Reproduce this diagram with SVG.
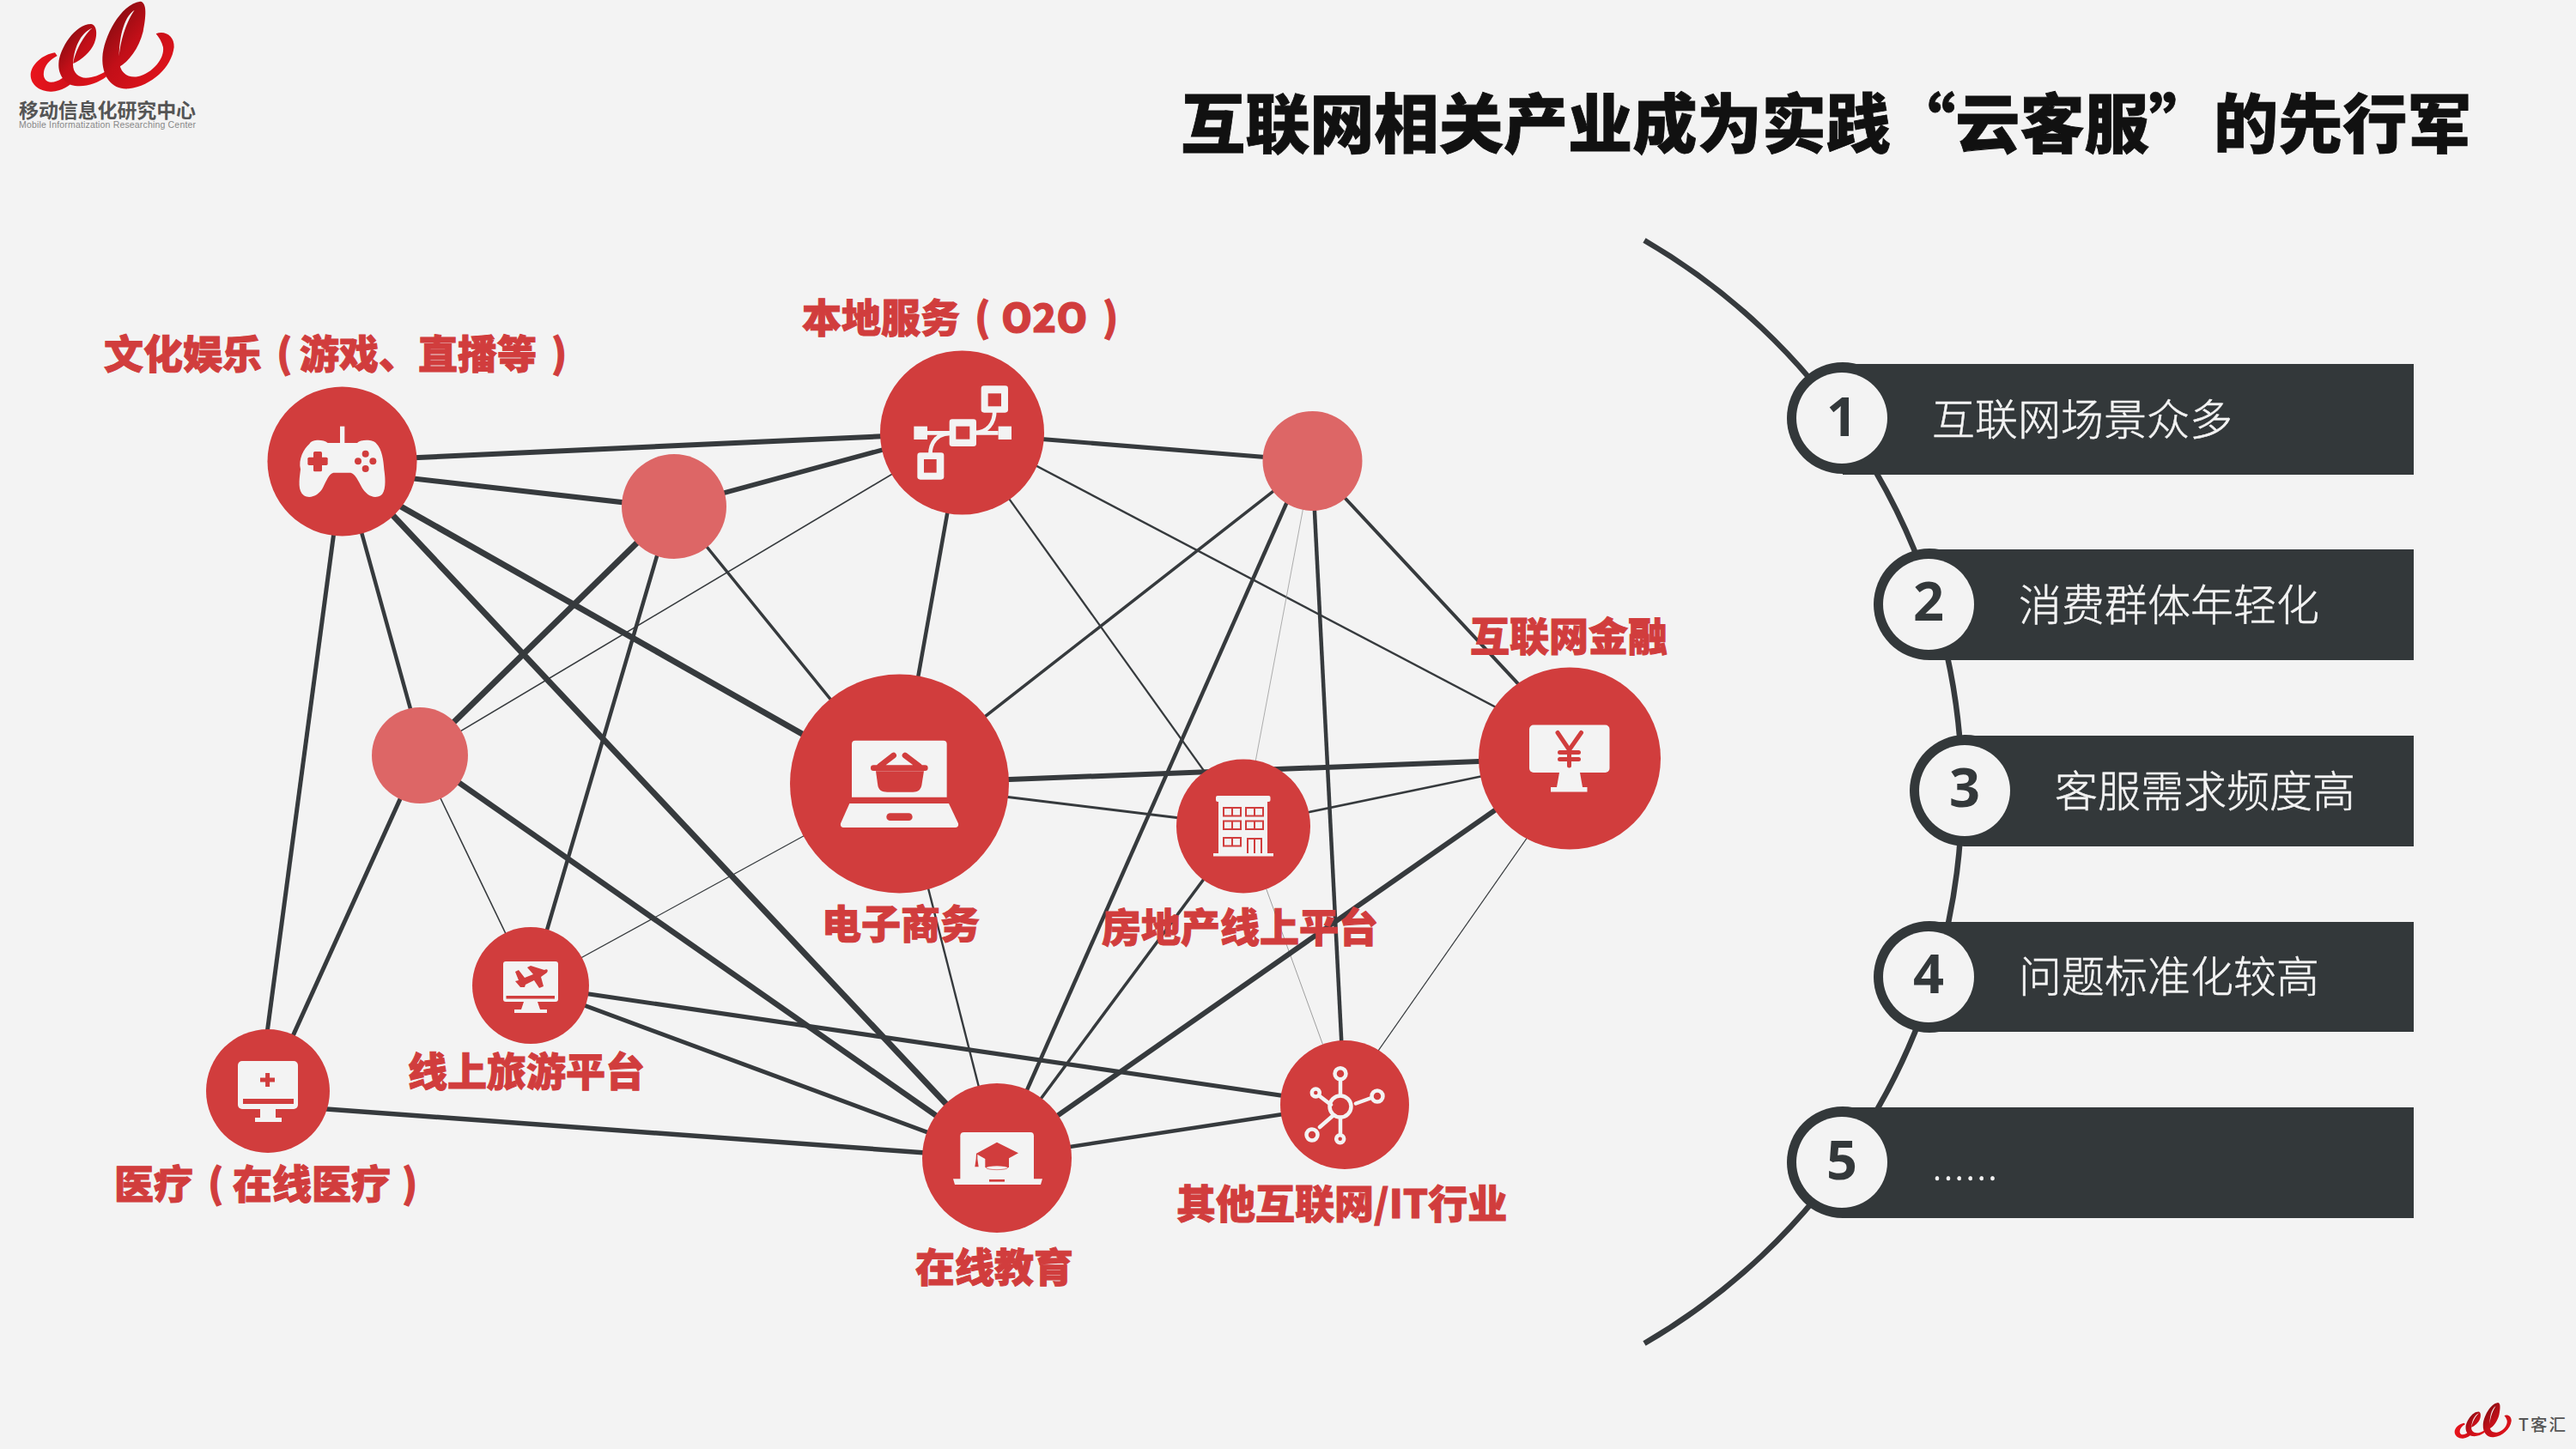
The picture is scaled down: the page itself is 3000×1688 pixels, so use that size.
<svg xmlns="http://www.w3.org/2000/svg" xmlns:xlink="http://www.w3.org/1999/xlink" width="3000" height="1688" viewBox="0 0 3000 1688">
<style>
.lbl{font-family:"Noto Sans CJK SC","Liberation Sans",sans-serif;font-weight:900;font-size:46px;fill:#D13D3D;stroke:#D13D3D;stroke-width:1}
.bt{font-family:"Noto Sans CJK SC","Liberation Sans",sans-serif;font-weight:300;font-size:50px;fill:#F3F3F3;stroke:#F3F3F3;stroke-width:.5}
.dg{font-family:"Open Sans","Liberation Sans",sans-serif;font-weight:700;font-size:63px;fill:#33383A;text-anchor:middle}
.n{fill:#D13D3D}.p{fill:#DD6666}
.w{fill:#F3F3F3}.r{fill:#D13D3D}
.bar{fill:#33383A}
#connectors line{stroke:#363A3D;stroke-linecap:butt}
</style>
<defs>
<linearGradient id="rib" x1="0" y1="0" x2="1" y2="1"><stop offset="0" stop-color="#6E0A0E"/><stop offset=".45" stop-color="#C20F18"/><stop offset="1" stop-color="#E8141C"/></linearGradient>
<linearGradient id="rib2" x1="0" y1="0" x2="1" y2="0"><stop offset="0" stop-color="#E8141C"/><stop offset="1" stop-color="#D0101A"/></linearGradient>
<g id="ribbon">
<path fill="url(#rib2)" d="M192 184C150 190 108 225 107 262C107 300 145 322 180 320C215 318 245 300 262 278L250 240C230 268 205 287 178 287C160 287 150 272 153 252C156 230 172 210 200 195Z"/>
<path fill="url(#rib)" d="M205 222C208 170 262 84 318 84C338 86 342 120 330 150C318 180 285 210 256 222C258 195 285 130 322 98C280 115 258 170 255 225C255 255 275 272 300 272C325 272 350 262 368 250L372 268C340 292 300 305 262 300C225 295 203 260 205 222Z"/>
<path fill="url(#rib)" d="M358 200C362 130 420 15 490 5C515 8 510 60 500 110C485 170 450 215 415 235C412 170 435 85 470 35C430 60 415 140 416 210C418 255 445 272 480 268C535 255 575 205 570 165C565 145 555 130 545 118C575 105 610 125 608 165C600 235 530 300 450 310C395 315 355 270 358 200Z"/>
</g>
</defs>
<rect width="3000" height="1688" fill="#F3F3F3"/>

<g id="logo-top">
<use xlink:href="#ribbon" href="#ribbon" transform="scale(.3333)"/>
<text x="22" y="137" textLength="206" style="font-family:'Noto Sans CJK SC',sans-serif;font-weight:700;font-size:23px;fill:#555">移动信息化研究中心</text>
<text x="22" y="149" textLength="206" style="font-family:'Liberation Sans',sans-serif;font-size:10.5px;fill:#888">Mobile  Informatization Researching Center</text>
</g>
<g id="logo-bottom">
<use xlink:href="#ribbon" href="#ribbon" transform="translate(2844.5 1633.4) scale(.132)"/>
<text x="2933" y="1667" style="font-family:'Noto Sans CJK SC',sans-serif;font-weight:500;font-size:19.500px;fill:#555" letter-spacing="2">T客汇</text>
</g>

<text id="title" x="1375" y="172" style="font-family:'Noto Sans CJK SC','Liberation Sans',sans-serif;font-weight:900;font-size:75.200px;fill:#111;stroke:#111;stroke-width:.8">互联网相关产业成为实践“云客服”的先行军</text>

<g id="connectors">
<line x1="398" y1="537" x2="1120" y2="504" stroke-width="6"/>
<line x1="398" y1="548" x2="785" y2="592" stroke-width="6"/>
<line x1="398" y1="551" x2="1047" y2="919" stroke-width="7"/>
<line x1="398" y1="537" x2="1161" y2="1349" stroke-width="7"/>
<line x1="398" y1="537" x2="493" y2="880" stroke-width="4.5"/>
<line x1="400" y1="537" x2="302" y2="1271" stroke-width="5"/>
<line x1="785" y1="590" x2="1120" y2="499" stroke-width="5.5"/>
<line x1="785" y1="590" x2="489" y2="880" stroke-width="7"/>
<line x1="782" y1="590" x2="618" y2="1148" stroke-width="4.5"/>
<line x1="785" y1="590" x2="1047" y2="913" stroke-width="3.5"/>
<line x1="1120" y1="504" x2="489" y2="880" stroke-width="1.6"/>
<line x1="1120" y1="504" x2="1047" y2="913" stroke-width="4.5"/>
<line x1="1120" y1="504" x2="1528" y2="537" stroke-width="5"/>
<line x1="1120" y1="497" x2="1828" y2="869" stroke-width="2.4"/>
<line x1="1120" y1="504" x2="1448" y2="962" stroke-width="2.2"/>
<line x1="1528" y1="537" x2="1047" y2="913" stroke-width="3.5"/>
<line x1="1528" y1="539" x2="1828" y2="861" stroke-width="4"/>
<line x1="1520" y1="537" x2="1161" y2="1349" stroke-width="4.5"/>
<line x1="1528" y1="537" x2="1448" y2="962" stroke-width=".8" style="stroke:#999"/>
<line x1="1528" y1="537" x2="1566" y2="1287" stroke-width="4.5"/>
<line x1="1047" y1="913" x2="1828" y2="883" stroke-width="6"/>
<line x1="1047" y1="913" x2="1448" y2="962" stroke-width="3"/>
<line x1="1047" y1="913" x2="618" y2="1148" stroke-width="1.2"/>
<line x1="1050" y1="913" x2="1161" y2="1349" stroke-width="2.4"/>
<line x1="1448" y1="962" x2="1828" y2="883" stroke-width="2.6"/>
<line x1="1448" y1="962" x2="1161" y2="1349" stroke-width="3.5"/>
<line x1="1448" y1="962" x2="1566" y2="1287" stroke-width=".8" style="stroke:#888"/>
<line x1="1828" y1="883" x2="1161" y2="1349" stroke-width="6"/>
<line x1="1828" y1="905" x2="1566" y2="1280" stroke-width="1.2"/>
<line x1="1566" y1="1287" x2="1161" y2="1349" stroke-width="4.5"/>
<line x1="1566" y1="1287" x2="618" y2="1148" stroke-width="5"/>
<line x1="618" y1="1148" x2="1161" y2="1349" stroke-width="5"/>
<line x1="489" y1="880" x2="618" y2="1148" stroke-width="1.6"/>
<line x1="489" y1="880" x2="312" y2="1271" stroke-width="5"/>
<line x1="489" y1="880" x2="1161" y2="1349" stroke-width="6.5"/>
<line x1="312" y1="1287" x2="1161" y2="1349" stroke-width="5.5"/>
</g>

<g id="node-game">
<circle class="n" cx="398.5" cy="537.5" r="87"/>
<g transform="translate(330 480) scale(.3333)">
<rect class="w" x="198" y="50" width="16" height="62"/>
<path class="w" d="M92 110C100 95 140 95 155 108L258 108C270 95 315 95 325 110C345 130 350 170 352 200C358 240 358 280 340 292C315 305 290 290 275 265C262 240 250 215 235 212L175 212C160 215 150 240 138 265C125 290 95 305 72 292C50 275 55 240 60 200C52 165 70 130 92 110Z"/>
<rect class="r" x="85" y="158" width="70" height="28" rx="5"/><rect class="r" x="105" y="138" width="30" height="70" rx="5"/>
<circle class="r" cx="287" cy="146" r="12"/><circle class="r" cx="261" cy="172" r="12"/><circle class="r" cx="313" cy="172" r="12"/><circle class="r" cx="287" cy="198" r="12"/>
</g>
<text class="lbl" x="121" y="429">文化娱乐 <tspan x="322">(</tspan> <tspan x="349">游戏、直播等</tspan> <tspan x="642">)</tspan></text>
</g>

<g id="node-o2o">
<circle class="n" cx="1120.5" cy="504" r="95.5"/>
<g transform="translate(1050 440) scale(.3333)">
<path d="M90 193H338M325 115C325 160 300 192 255 192M170 195C125 195 100 225 100 270" fill="none" stroke="#F3F3F3" stroke-width="14"/>
<rect class="w" x="278" y="28" width="94" height="94" rx="10"/><rect class="r" x="302" y="55" width="46" height="45"/>
<rect class="w" x="167" y="145" width="94" height="95" rx="10"/><rect class="r" x="190" y="170" width="48" height="45"/>
<rect class="w" x="55" y="262" width="93" height="94" rx="10"/><rect class="r" x="78" y="285" width="44" height="47"/>
<rect class="w" x="43" y="170" width="47" height="46"/><rect class="w" x="338" y="170" width="46" height="46"/>
</g>
<text class="lbl" x="934" y="387">本地服务 <tspan x="1135">(</tspan> <tspan x="1166">O2O</tspan> <tspan x="1284">)</tspan></text>
</g>

<g id="node-pale-1"><circle class="p" cx="785" cy="590" r="61"/></g>
<g id="node-pale-2"><circle class="p" cx="489" cy="880" r="56"/></g>
<g id="node-pale-3"><circle class="p" cx="1528.5" cy="537" r="58"/></g>

<g id="node-ecommerce">
<circle class="n" cx="1047.5" cy="913" r="127.5"/>
<g transform="translate(970 850) scale(.3333)">
<path class="w" d="M66 236V50Q66 38 78 38H386Q398 38 398 50V236Z"/>
<path class="w" d="M58 258H405L438 328Q440 342 428 342H37Q25 342 27 328Z"/>
<rect class="r" x="187" y="292" width="91" height="26" rx="13"/>
<path class="r" d="M150 145H318L310 195C306 212 295 218 280 218H190C172 218 160 212 157 195Z"/>
<path d="M142 134H322M163 128L212 90M302 128L252 90" fill="none" stroke="#D13D3D" stroke-width="20" stroke-linecap="round"/>
</g>
<text class="lbl" x="957" y="1093">电子商务</text>
</g>

<g id="node-travel">
<circle class="n" cx="618" cy="1148" r="68"/>
<rect class="w" x="586" y="1120" width="64" height="47" rx="3"/>
<path class="w" d="M610 1167H626L629 1176H637V1180H599V1176H607Z"/>
<rect class="r" x="589.5" y="1160" width="56.5" height="3.5"/>
<path class="r" d="M634 1130C637 1128 639 1130 637 1133L630 1138L633 1149L628 1151L622 1142L612 1147L611 1150L606 1150L600 1143L604 1142L600 1132L604 1130L611 1139L621 1135L614 1127L618 1125Z"/>
<text class="lbl" x="475" y="1265">线上旅游平台</text>
</g>

<g id="node-medical">
<circle class="n" cx="312" cy="1271" r="72"/>
<rect class="w" x="277" y="1236" width="70" height="56" rx="5"/>
<path class="w" d="M303 1292H321V1302H328V1307H297V1302H303Z"/>
<rect class="r" x="283" y="1280" width="59" height="6"/>
<path d="M311.6 1250V1266M303 1258H320" stroke="#D13D3D" stroke-width="5" fill="none"/>
<text class="lbl" x="133" y="1396">医疗 <tspan x="242">(</tspan> <tspan x="271">在线医疗</tspan> <tspan x="468">)</tspan></text>
</g>

<g id="node-education">
<circle class="n" cx="1161" cy="1349" r="87"/>
<g transform="translate(1090 1300) scale(.3333)">
<path class="w" d="M85 222V70Q85 57 98 57H330Q342 57 342 70V222Z"/>
<path class="w" d="M60 220H372L366 240H66Z"/>
<rect class="r" x="186" y="222" width="54" height="8"/>
<path class="r" d="M140 132L213 92L288 130L255 148V180H172V150Z"/>
<ellipse cx="213" cy="181" rx="38" ry="7" fill="#F3F3F3" stroke="#D13D3D" stroke-width="2"/>
<path class="r" d="M141 132H145V150L149 178H136L140 150Z"/>
</g>
<text class="lbl" x="1066" y="1493">在线教育</text>
</g>

<g id="node-real-estate">
<circle class="n" cx="1448" cy="962.5" r="78"/>
<rect class="w" x="1416" y="927" width="63.5" height="7" rx="2"/>
<rect class="w" x="1419" y="930" width="57" height="66"/>
<rect class="w" x="1413" y="994" width="70" height="3.5"/>
<g fill="none" stroke="#D13D3D" stroke-width="2">
<path d="M1425 941h20v9.500h-20zM1435 941v9.500M1451 941h20v9.500h-20zM1461 941v9.500"/>
<path d="M1425 956.500h20v9.500h-20zM1435 956.500v9.500M1451 956.500h20v9.500h-20zM1461 956.500v9.500"/>
<path d="M1425 976h20v9.500h-20zM1435 976v9.500"/>
<path d="M1453 994V977H1469V994M1461 977V994"/>
</g>
<text class="lbl" x="1283" y="1097">房地产线上平台</text>
</g>

<g id="node-finance">
<circle class="n" cx="1828" cy="883.500" r="106"/>
<rect class="w" x="1781" y="844.600" width="93.500" height="55.400" rx="5"/>
<path class="w" d="M1816 900H1840L1843 917H1848.500V922.500H1806V917H1813Z"/>
<path d="M1814 853.500L1827.500 873.500L1841.500 853.500M1827.500 873.500V892M1816.500 876.500H1838.500M1816.500 884.600H1838.500" fill="none" stroke="#D13D3D" stroke-width="5" stroke-linecap="round"/>
<text class="lbl" x="1712" y="758">互联网金融</text>
</g>

<g id="node-it">
<circle class="n" cx="1566" cy="1287" r="75"/>
<g fill="none" stroke="#F3F3F3" stroke-width="4.500">
<circle cx="1561" cy="1289" r="12.500"/>
<circle cx="1561" cy="1250.700" r="6.500"/>
<circle cx="1604" cy="1277" r="6.500"/>
<circle cx="1532.300" cy="1273" r="4.500"/>
<circle cx="1528" cy="1322" r="6.500"/>
<circle cx="1560.700" cy="1326.700" r="4.500"/>
<path d="M1561 1258V1276M1597 1279L1579 1285.500M1537 1277L1550 1287M1552 1300L1537 1313M1561 1302V1320" stroke-linecap="round"/>
</g>
<text class="lbl" x="1370" y="1419">其他互联网/IT行业</text>
</g>

<g id="arc"><path d="M1915 280A743 743 0 0 1 1915 1565" fill="none" stroke="#363A3D" stroke-width="6.500"/></g>

<g id="item-1">
<circle class="bar" cx="2146" cy="487" r="65"/><rect class="bar" x="2146" y="424" width="665" height="129"/>
<circle class="w" cx="2145" cy="487" r="53"/>
<text class="dg" x="2145" y="508">1</text>
<text class="bt" x="2250" y="507">互联网场景众多</text>
</g>
<g id="item-2">
<circle class="bar" cx="2247" cy="704" r="65"/><rect class="bar" x="2247" y="640" width="564" height="129"/>
<circle class="w" cx="2246" cy="704" r="53"/>
<text class="dg" x="2246" y="723">2</text>
<text class="bt" x="2351" y="723">消费群体年轻化</text>
</g>
<g id="item-3">
<circle class="bar" cx="2289" cy="921" r="65"/><rect class="bar" x="2289" y="857" width="522" height="129"/>
<circle class="w" cx="2288" cy="921" r="53"/>
<text class="dg" x="2288" y="940">3</text>
<text class="bt" x="2393" y="940">客服需求频度高</text>
</g>
<g id="item-4">
<circle class="bar" cx="2247" cy="1138" r="65"/><rect class="bar" x="2247" y="1074" width="564" height="128"/>
<circle class="w" cx="2246" cy="1138" r="53"/>
<text class="dg" x="2246" y="1157">4</text>
<text class="bt" x="2351" y="1156">问题标准化较高</text>
</g>
<g id="item-5">
<circle class="bar" cx="2146" cy="1354" r="65"/><rect class="bar" x="2146" y="1290" width="665" height="129"/>
<circle class="w" cx="2145" cy="1354" r="53"/>
<text class="dg" x="2145" y="1374">5</text>
<text class="bt" x="2250" y="1375" letter-spacing="1" style="font-family:'Open Sans',sans-serif">......</text>
</g>
</svg>
